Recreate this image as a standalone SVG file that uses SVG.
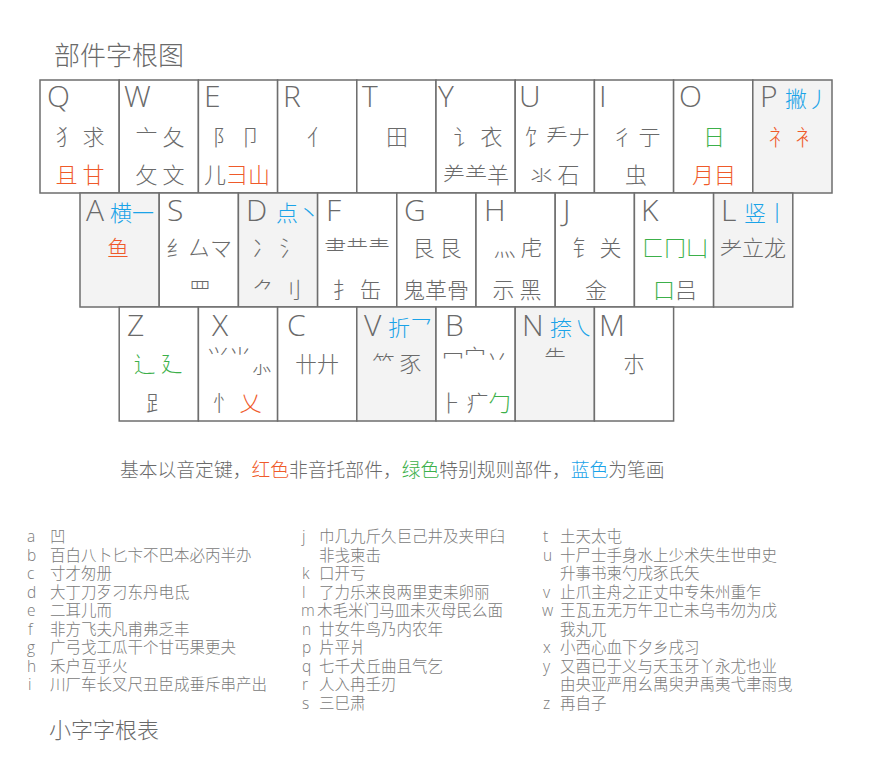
<svg xmlns="http://www.w3.org/2000/svg" width="880" height="760" viewBox="0 0 880 760">
<style>
.key{fill:#fff;stroke:#6e6e6e;stroke-width:1.5}
.gk{fill:#f3f3f3;stroke:#6e6e6e;stroke-width:1.5}
.L{font-family:"Open Sans","Liberation Sans",sans-serif;font-weight:300;font-size:30px;fill:#6a6a6a}
.c{font-family:"Noto Sans CJK SC",sans-serif;font-weight:300;font-size:22px;fill:#6a6a6a;text-anchor:middle}
.s{font-family:"Noto Sans CJK SC",sans-serif;font-weight:300;font-size:22px;fill:#1aa3e8}
.r{fill:#ef5a2a}
.g{fill:#3cb04a}
.b{fill:#1aa3e8}
.t{font-family:"Noto Sans CJK SC",sans-serif;font-weight:300;fill:#6a6a6a}
.l{font-family:"Noto Sans CJK SC",sans-serif;font-weight:300;font-size:15.5px;fill:#7a7a7a}
.la{font-family:"Open Sans","Liberation Sans",sans-serif;font-weight:300;font-size:15.5px;fill:#7a7a7a}
</style>
<text class="t" x="54" y="65" font-size="26">部件字根图</text>

<g id="key-Q"><rect class="key" x="40" y="80" width="79.2" height="113"/><text class="L" x="47" y="107">Q</text><text class="c" x="80" y="145">犭 求</text><text class="c r" x="80" y="183">且 甘</text></g>
<g id="key-W"><rect class="key" x="119.2" y="80" width="79.2" height="113"/><text class="L" x="124" y="107">W</text><text class="c" x="160" y="145">亠 夂</text><text class="c" x="160" y="183">攵 文</text></g>
<g id="key-E"><rect class="key" x="198.4" y="80" width="79.2" height="113"/><text class="L" x="204" y="107">E</text><text class="c" x="237" y="145">阝 卩</text><text class="c" x="237" y="183">儿<tspan class="r">彐山</tspan></text></g>
<g id="key-R"><rect class="key" x="277.6" y="80" width="79.2" height="113"/><text class="L" x="283" y="107">R</text><text class="c" x="318" y="145">亻</text></g>
<g id="key-T"><rect class="key" x="356.8" y="80" width="79.2" height="113"/><text class="L" x="362" y="107">T</text><text class="c" x="397" y="145">田</text></g>
<g id="key-Y"><rect class="key" x="436" y="80" width="79.2" height="113"/><text class="L" x="438" y="107">Y</text><text class="c" x="478" y="145">讠 衣</text><text class="c" x="476" y="183">⺶⺷羊</text></g>
<g id="key-U"><rect class="key" x="515.2" y="80" width="79.2" height="113"/><text class="L" x="519" y="107">U</text><text class="c" x="557" y="145">饣龵ナ</text><text class="c" x="555" y="183">氺 石</text></g>
<g id="key-I"><rect class="key" x="594.4" y="80" width="79.2" height="113"/><text class="L" x="599" y="107">I</text><text class="c" x="636" y="145">彳 亍</text><text class="c" x="636" y="183">虫</text></g>
<g id="key-O"><rect class="key" x="673.6" y="80" width="79.2" height="113"/><text class="L" x="679" y="107">O</text><text class="c g" x="714" y="145">日</text><text class="c r" x="714" y="183">月目</text></g>
<g id="key-P"><rect class="gk" x="752.8" y="80" width="79.2" height="113"/><text class="L" x="760" y="107">P</text><text class="s" x="785" y="107">撇丿</text><text class="c r" x="793" y="145">礻 衤</text></g>

<g id="key-A"><rect class="gk" x="80" y="193" width="79.2" height="114"/><text class="L" x="86" y="221">A</text><text class="s" x="110" y="221">横一</text><text class="c r" x="118" y="256">鱼</text></g>
<g id="key-S"><rect class="key" x="159.2" y="193" width="79.2" height="114"/><text class="L" x="167" y="221">S</text><text class="c" x="199" y="256">纟厶マ</text><text class="c" x="200" y="298" font-size="16">罒</text></g>
<g id="key-D"><rect class="gk" x="238.4" y="193" width="79.2" height="114"/><text class="L" x="246" y="221">D</text><text class="s" x="276" y="221">点丶</text><text class="c" x="277" y="256">冫 氵</text><text class="c" x="277" y="298">⺈ 刂</text></g>
<g id="key-F"><rect class="key" x="317.6" y="193" width="79.2" height="114"/><text class="L" x="326" y="221">F</text><text class="c" x="357" y="256">⺻龷龶</text><text class="c" x="357" y="298">扌 缶</text></g>
<g id="key-G"><rect class="key" x="396.8" y="193" width="79.2" height="114"/><text class="L" x="404" y="221">G</text><text class="c" x="437" y="256">⾉ 艮</text><text class="c" x="436" y="298">鬼革骨</text></g>
<g id="key-H"><rect class="key" x="476" y="193" width="79.2" height="114"/><text class="L" x="484" y="221">H</text><text class="c" x="518" y="256">灬 虍</text><text class="c" x="517" y="298">示 黑</text></g>
<g id="key-J"><rect class="key" x="555.2" y="193" width="79.2" height="114"/><text class="L" x="563" y="221">J</text><text class="c" x="597" y="256">钅 关</text><text class="c" x="596" y="298">金</text></g>
<g id="key-K"><rect class="key" x="634.4" y="193" width="79.2" height="114"/><text class="L" x="641" y="221">K</text><text class="c g" x="675" y="256">匚冂凵</text><text class="c" x="675" y="298"><tspan class="g">口</tspan>吕</text></g>
<g id="key-L"><rect class="gk" x="713.6" y="193" width="79.2" height="114"/><text class="L" x="721" y="221">L</text><text class="s" x="744" y="221">竖丨</text><text class="c" x="753" y="256">⺹立龙</text></g>

<g id="key-Z"><rect class="key" x="119.2" y="307" width="79.2" height="114"/><text class="L" x="127" y="336">Z</text><text class="c g" x="158" y="372">辶 廴</text><text class="c" x="157" y="411">⻊</text></g>
<g id="key-X"><rect class="key" x="198.4" y="307" width="79.2" height="114"/><text class="L" x="212" y="336">X</text><text class="c" x="229" y="365" font-size="18">⺍⺌</text><text class="c" x="262" y="373" font-size="14">⺗</text><text class="c" x="237" y="411">忄 <tspan class="r">乂</tspan></text></g>
<g id="key-C"><rect class="key" x="277.6" y="307" width="79.2" height="114"/><text class="L" x="287" y="336">C</text><text class="c" x="317" y="372">卄廾</text></g>
<g id="key-V"><rect class="gk" x="356.8" y="307" width="79.2" height="114"/><text class="L" x="364" y="336">V</text><text class="s" x="388" y="336">折乛</text><text class="c" x="397" y="372">⺮ 豕</text></g>
<g id="key-B"><rect class="key" x="436" y="307" width="79.2" height="114"/><text class="L" x="445" y="336">B</text><text class="c" x="475" y="365" font-size="18">冖宀丷</text><text class="c" x="475" y="411">⺊ 疒<tspan class="g">勹</tspan></text></g>
<g id="key-N"><rect class="gk" x="515.2" y="307" width="79.2" height="114"/><text class="L" x="522" y="336">N</text><text class="s" x="550" y="336">捺㇏</text><text class="c" x="555" y="366" font-size="20">⺧</text></g>
<g id="key-M"><rect class="key" x="594.4" y="307" width="79.2" height="114"/><text class="L" x="599" y="336">M</text><text class="c" x="634" y="372">朩</text></g>

<text class="t" x="120" y="477" font-size="18.8">基本以音定键，<tspan class="r">红色</tspan>非音托部件，<tspan class="g">绿色</tspan>特别规则部件，<tspan class="b">蓝色</tspan>为笔画</text>

<g id="list-col1">
<text class="la" x="27" y="542">a</text><text class="l" x="50" y="542">凹</text>
<text class="la" x="27" y="560.5">b</text><text class="l" x="50" y="560.5">百白八卜匕卞不巴本必丙半办</text>
<text class="la" x="27" y="579">c</text><text class="l" x="50" y="579">寸才匆册</text>
<text class="la" x="27" y="597.5">d</text><text class="l" x="50" y="597.5">大丁刀歹刁东丹电氐</text>
<text class="la" x="27" y="616">e</text><text class="l" x="50" y="616">二耳儿而</text>
<text class="la" x="28" y="634.5">f</text><text class="l" x="50" y="634.5">非方飞夫凡甫弗乏丰</text>
<text class="la" x="27" y="653">g</text><text class="l" x="50" y="653">广弓戈工瓜干个甘丐果更夬</text>
<text class="la" x="27" y="671.5">h</text><text class="l" x="50" y="671.5">禾户互乎火</text>
<text class="la" x="28" y="690">i</text><text class="l" x="50" y="690">川厂车长叉尺丑臣成垂斥串产出</text>
</g>
<g id="list-col2">
<text class="la" x="302" y="542">j</text><text class="l" x="319" y="542">巾几九斤久巨己井及夹甲臼</text>
<text class="l" x="319" y="560.5">非戋柬击</text>
<text class="la" x="302" y="579">k</text><text class="l" x="319" y="579">口开亏</text>
<text class="la" x="302" y="597.5">l</text><text class="l" x="319" y="597.5">了力乐来良两里吏耒卵丽</text>
<text class="la" x="301" y="616">m</text><text class="l" x="317" y="616">木毛米门马皿未灭母民么面</text>
<text class="la" x="302" y="634.5">n</text><text class="l" x="319" y="634.5">廿女牛鸟乃内农年</text>
<text class="la" x="302" y="653">p</text><text class="l" x="319" y="653">片平爿</text>
<text class="la" x="302" y="671.5">q</text><text class="l" x="319" y="671.5">七千犬丘曲且气乞</text>
<text class="la" x="302" y="690">r</text><text class="l" x="319" y="690">人入冉壬刃</text>
<text class="la" x="302" y="708.5">s</text><text class="l" x="319" y="708.5">三巳肃</text>
</g>
<g id="list-col3">
<text class="la" x="543" y="542">t</text><text class="l" x="560" y="542">土天太屯</text>
<text class="la" x="543" y="560.5">u</text><text class="l" x="560" y="560.5">十尸士手身水上少术失生世申史</text>
<text class="l" x="560" y="579">升事书柬勺戌豕氏矢</text>
<text class="la" x="543" y="597.5">v</text><text class="l" x="560" y="597.5">止爪主舟之正丈中专朱州重乍</text>
<text class="la" x="542" y="616">w</text><text class="l" x="560" y="616">王瓦五无万午卫亡未乌韦勿为戊</text>
<text class="l" x="560" y="634.5">我丸兀</text>
<text class="la" x="543" y="653">x</text><text class="l" x="560" y="653">小西心血下夕乡戌习</text>
<text class="la" x="543" y="671.5">y</text><text class="l" x="560" y="671.5">又酉已于义与夭玉牙丫永尤也业</text>
<text class="l" x="560" y="690">由央亚严用幺禺臾尹禹夷弋聿雨曳</text>
<text class="la" x="543" y="708.5">z</text><text class="l" x="560" y="708.5">再自子</text>
</g>
<text class="t" x="49" y="738" font-size="22">小字字根表</text>
</svg>
